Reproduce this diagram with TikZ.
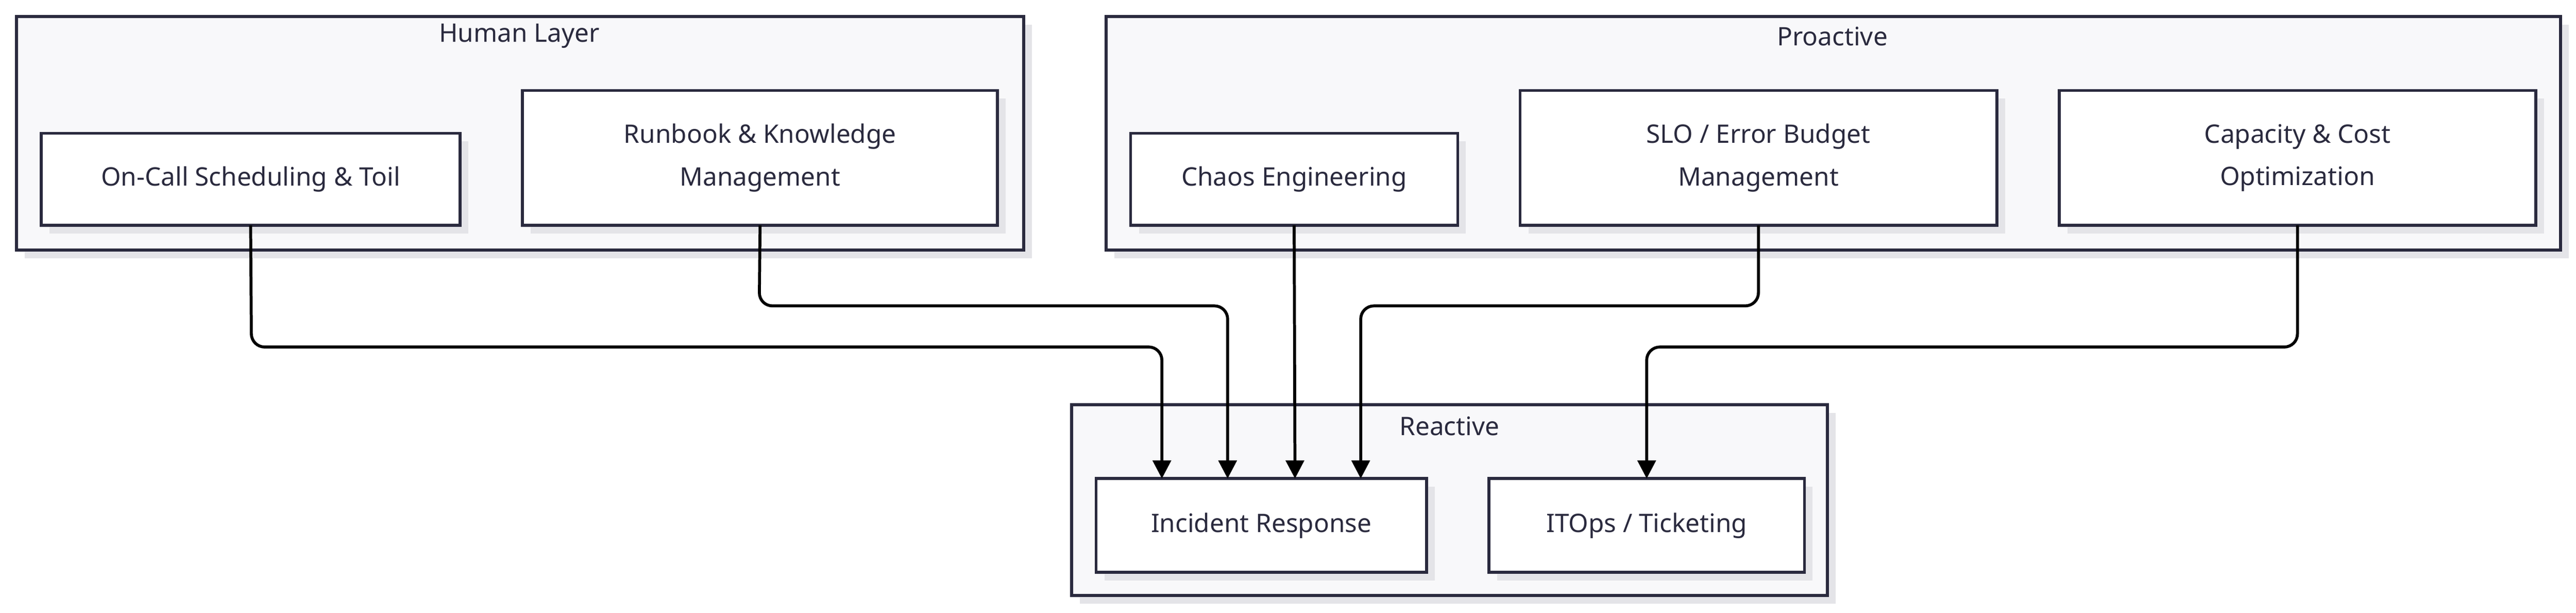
\documentclass[tikz,border=0pt]{standalone}
\usepackage{fontspec}
\setmainfont{Noto Sans}
\usetikzlibrary{arrows.meta}
\definecolor{ink}{HTML}{2A2A3E}
\definecolor{grp}{HTML}{F8F8FA}
\definecolor{shd}{HTML}{E4E4E8}
\tikzset{
  x=1pt,y=-1pt,
  grpbox/.style={draw=ink,line width=1.8pt,fill=grp},
  nodebox/.style={draw=ink,line width=1.8pt,fill=white},
  shadowbox/.style={fill=shd},
  lbl/.style={font=\fontsize{15.5}{26}\selectfont,text=ink,align=center},
  conn/.style={draw=black,line width=1.8pt,rounded corners=8pt,-{Triangle[length=11pt,width=11pt]}}
}
\newcommand{\gbox}[5]{%
  \fill[shadowbox] (#2+5,#3+5) rectangle (#4+5,#5+5);
  \draw[grpbox] (#2,#3) rectangle (#4,#5);
  \coordinate (#1) at ({(#2+#4)/2},{(#3+#5)/2});}
\newcommand{\nbox}[6]{%
  \fill[shadowbox] (#2+5,#3+5) rectangle (#4+5,#5+5);
  \draw[nodebox] (#2,#3) rectangle (#4,#5);
  \node[lbl] (#1) at ({(#2+#4)/2},{(#3+#5)/2}) {#6};
  \coordinate (#1-n) at ({(#2+#4)/2},#3);
  \coordinate (#1-s) at ({(#2+#4)/2},#5);}
\begin{document}
\begin{tikzpicture}
\useasboundingbox (0,0) rectangle (1567.5,372.5);
\gbox{human}{10}{10}{623}{152}
\gbox{pro}{673}{10}{1558}{152}
\gbox{rea}{652}{246}{1112}{362}
\node[lbl] (humanlbl) at (316,22) {Human Layer};
\node[lbl] (prolbl) at (1115,22) {Proactive};
\node[lbl] (realbl) at (882,259) {Reactive};
\nbox{oncall}{25}{81}{280}{137}{On-Call Scheduling \& Toil}
\nbox{runbook}{318}{55}{607}{137}{Runbook \& Knowledge\\Management}
\nbox{chaos}{688}{81}{887}{137}{Chaos Engineering}
\nbox{slo}{925}{55}{1215}{137}{SLO / Error Budget\\Management}
\nbox{cap}{1253}{55}{1543}{137}{Capacity \& Cost\\Optimization}
\nbox{inc}{667}{291}{868}{348}{Incident Response}
\nbox{itops}{906}{291}{1098}{348}{ITOps / Ticketing}
\coordinate (i1) at (707,291);
\coordinate (i2) at (747,291);
\coordinate (i3) at (788,291);
\coordinate (i4) at (828,291);
\coordinate (t1) at (1002,291);
\draw[conn] (oncall-s) -- (153,211) -- (707,211) -- (i1);
\draw[conn] (runbook-s) -- (462,186) -- (747,186) -- (i2);
\draw[conn] (chaos-s) -- (i3);
\draw[conn] (slo-s) -- (1070,186) -- (828,186) -- (i4);
\draw[conn] (cap-s) -- (1398,211) -- (1002,211) -- (t1);
\end{tikzpicture}
\end{document}
